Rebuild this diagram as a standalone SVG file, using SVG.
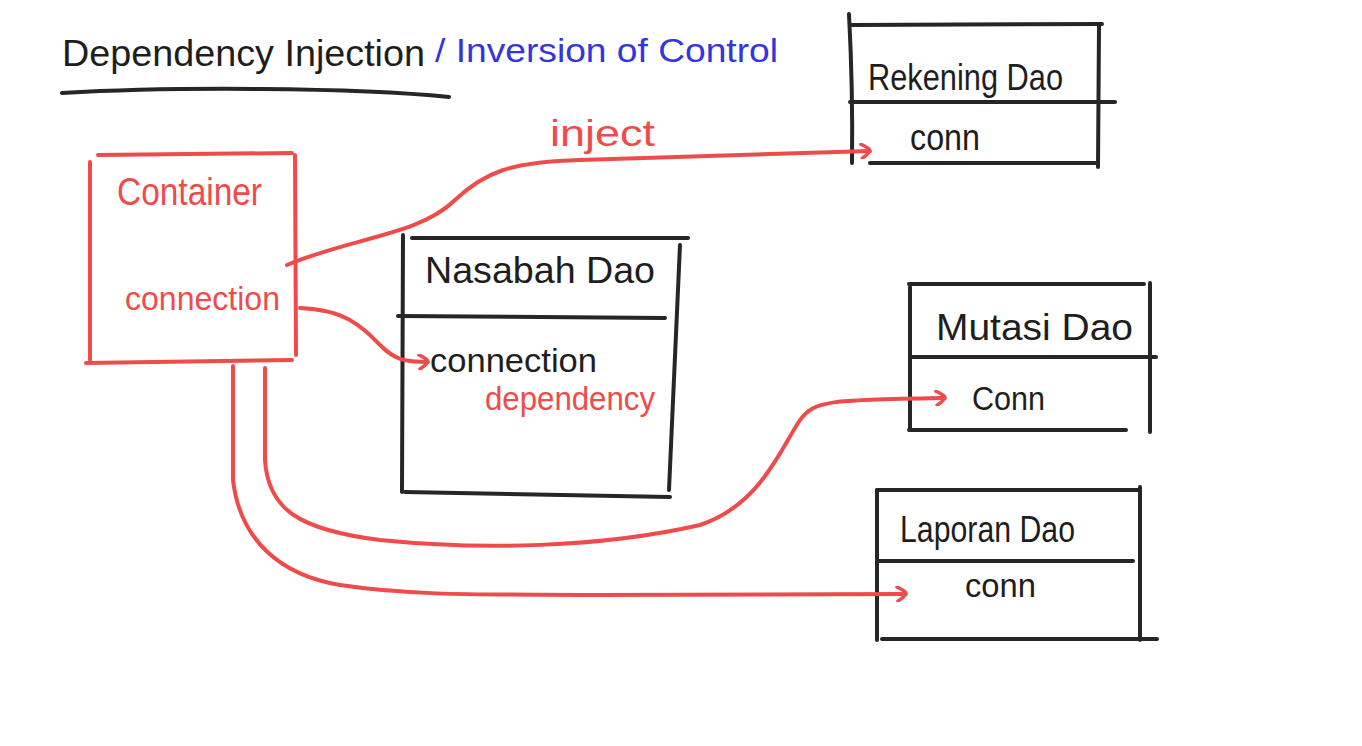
<svg xmlns="http://www.w3.org/2000/svg" width="1362" height="746" viewBox="0 0 1362 746">
<style>
.k{stroke:#262626;stroke-width:4;fill:none;stroke-linecap:round;stroke-linejoin:round}
.r{stroke:#ef4b4b;stroke-width:4;fill:none;stroke-linecap:round;stroke-linejoin:round}
.t{font-family:"Liberation Sans",Arial,sans-serif;fill:#1e1e1e}
.tr{font-family:"Liberation Sans",Arial,sans-serif;fill:#ef4b4b}
.tb{font-family:"Liberation Sans",Arial,sans-serif;fill:#3434e0}
</style>
<rect width="1362" height="746" fill="#ffffff"/>
<defs>
<marker id="ah" viewBox="0 0 12 16" refX="11" refY="8" markerWidth="12" markerHeight="16" markerUnits="userSpaceOnUse" orient="auto">
<path d="M2,1 Q12,6 11,8 Q8,12 3,15" fill="none" stroke="#ef4b4b" stroke-width="3.5" stroke-linecap="round"/>
</marker>
</defs>
<g id="title">
<text class="t" x="62" y="66" font-size="36" textLength="363" lengthAdjust="spacingAndGlyphs">Dependency Injection</text>
<text class="tb" x="435" y="62" font-size="34" textLength="343" lengthAdjust="spacingAndGlyphs">/ Inversion of Control</text>
<path class="k" d="M62,93 Q150,88 260,89 Q380,90 449,97"/>
</g>
<g id="container">
<path class="r" d="M98,155 L292,153"/>
<path class="r" d="M90,162 L90,360"/>
<path class="r" d="M295,155 L296,355"/>
<path class="r" d="M86,363 L292,360"/>
<text class="tr" x="117" y="205" font-size="38" textLength="145" lengthAdjust="spacingAndGlyphs">Container</text>
<text class="tr" x="125" y="310" font-size="34" textLength="155" lengthAdjust="spacingAndGlyphs">connection</text>
</g>
<g id="rekening-dao">
<path class="k" d="M849,14 Q853,90 852,163"/>
<path class="k" d="M852,25 L1102,24"/>
<path class="k" d="M1099,26 L1098,167"/>
<path class="k" d="M850,102 L1115,102"/>
<path class="k" d="M870,163 L1097,163"/>
<text class="t" x="868" y="90" font-size="36" textLength="195" lengthAdjust="spacingAndGlyphs">Rekening Dao</text>
<text class="t" x="910" y="150" font-size="36" textLength="70" lengthAdjust="spacingAndGlyphs">conn</text>
</g>
<g id="nasabah-dao">
<path class="k" d="M412,238 L688,238"/>
<path class="k" d="M403,235 L402,492"/>
<path class="k" d="M680,245 L669,490"/>
<path class="k" d="M398,316 L665,318"/>
<path class="k" d="M405,492 L670,497"/>
<text class="t" x="425" y="283" font-size="36" textLength="230" lengthAdjust="spacingAndGlyphs">Nasabah Dao</text>
<text class="t" x="430" y="372" font-size="34" textLength="167" lengthAdjust="spacingAndGlyphs">connection</text>
<text class="tr" x="485" y="410" font-size="34" textLength="170" lengthAdjust="spacingAndGlyphs">dependency</text>
</g>
<g id="mutasi-dao">
<path class="k" d="M909,284 L1144,284"/>
<path class="k" d="M910,287 L910,430"/>
<path class="k" d="M1150,283 L1150,432"/>
<path class="k" d="M912,357 L1156,357"/>
<path class="k" d="M909,430 L1126,430"/>
<text class="t" x="936" y="340" font-size="36" textLength="197" lengthAdjust="spacingAndGlyphs">Mutasi Dao</text>
<text class="t" x="972" y="410" font-size="34" textLength="73" lengthAdjust="spacingAndGlyphs">Conn</text>
</g>
<g id="laporan-dao">
<path class="k" d="M877,490 L1140,490"/>
<path class="k" d="M877,490 L877,640"/>
<path class="k" d="M1140,487 L1140,640"/>
<path class="k" d="M877,561 L1133,561"/>
<path class="k" d="M882,639 L1157,639"/>
<text class="t" x="900" y="542" font-size="36" textLength="175" lengthAdjust="spacingAndGlyphs">Laporan Dao</text>
<text class="t" x="965" y="597" font-size="34" textLength="71" lengthAdjust="spacingAndGlyphs">conn</text>
</g>
<g id="connectors">
<path class="r" d="M287,265 C350,238 420,235 455,200 C485,172 510,162 580,160 L870,151" marker-end="url(#ah)"/>
<text class="tr" x="550" y="146" font-size="36" textLength="105" lengthAdjust="spacingAndGlyphs">inject</text>
<path class="r" d="M300,308 C345,310 360,325 380,345 C395,360 405,362 428,362" marker-end="url(#ah)"/>
<path class="r" d="M265,368 L265,460 C268,510 300,530 380,540 C480,550 600,548 700,525 C760,505 780,450 800,420 C815,400 830,400 945,398" marker-end="url(#ah)"/>
<path class="r" d="M233,366 L233,480 C240,540 280,575 340,585 C420,597 500,594 600,595 L906,594" marker-end="url(#ah)"/>
</g>
</svg>
